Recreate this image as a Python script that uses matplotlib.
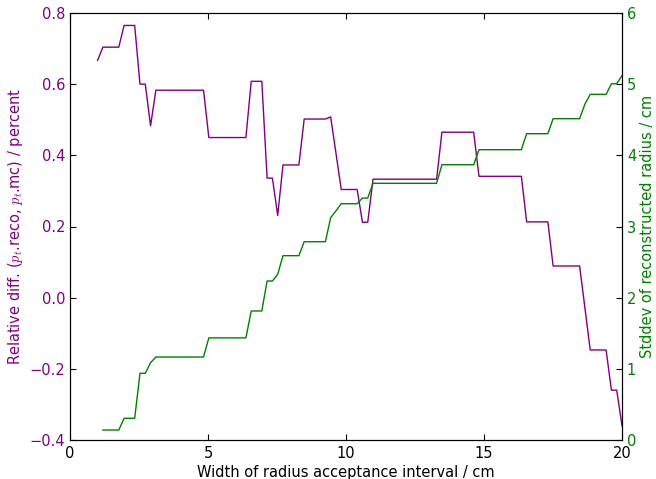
import numpy as np
import matplotlib
matplotlib.use("Agg")
import matplotlib.pyplot as plt

# scan over the width of the radius acceptance interval (cm)
widths = np.linspace(1, 20, 100)

# relative difference between reconstructed and true pt (percent)
rel_diff = [
    0.667, 0.704, 0.704, 0.704, 0.704, 0.765, 0.765, 0.765, 0.600, 0.600,
    0.483, 0.583, 0.583, 0.583, 0.583, 0.583, 0.583, 0.583, 0.583, 0.583,
    0.583, 0.450, 0.450, 0.450, 0.450, 0.450, 0.450, 0.450, 0.450, 0.608,
    0.608, 0.608, 0.336, 0.336, 0.231, 0.373, 0.373, 0.373, 0.373, 0.502,
    0.502, 0.502, 0.502, 0.502, 0.508, 0.406, 0.304, 0.304, 0.304, 0.304,
    0.212, 0.212, 0.333, 0.333, 0.333, 0.333, 0.333, 0.333, 0.333, 0.333,
    0.333, 0.333, 0.333, 0.333, 0.333, 0.465, 0.465, 0.465, 0.465, 0.465,
    0.465, 0.465, 0.341, 0.341, 0.341, 0.341, 0.341, 0.341, 0.341, 0.341,
    0.341, 0.213, 0.213, 0.213, 0.213, 0.213, 0.089, 0.089, 0.089, 0.089,
    0.089, 0.089, -0.029, -0.147, -0.147, -0.147, -0.147, -0.260, -0.260, -0.360,
]

# stddev of the reconstructed radius (cm); first width has no entry
radius_std = [
    np.nan, 0.140, 0.140, 0.140, 0.140, 0.305, 0.305, 0.305, 0.937, 0.937,
    1.086, 1.166, 1.166, 1.166, 1.166, 1.166, 1.166, 1.166, 1.166, 1.166,
    1.166, 1.435, 1.435, 1.435, 1.435, 1.435, 1.435, 1.435, 1.435, 1.813,
    1.813, 1.813, 2.234, 2.234, 2.328, 2.590, 2.590, 2.590, 2.590, 2.786,
    2.786, 2.786, 2.786, 2.786, 3.124, 3.220, 3.320, 3.320, 3.320, 3.320,
    3.400, 3.400, 3.607, 3.607, 3.607, 3.607, 3.607, 3.607, 3.607, 3.607,
    3.607, 3.607, 3.607, 3.607, 3.607, 3.868, 3.868, 3.868, 3.868, 3.868,
    3.868, 3.868, 4.079, 4.079, 4.079, 4.079, 4.079, 4.079, 4.079, 4.079,
    4.079, 4.304, 4.304, 4.304, 4.304, 4.304, 4.515, 4.515, 4.515, 4.515,
    4.515, 4.515, 4.720, 4.857, 4.857, 4.857, 4.857, 5.006, 5.006, 5.119,
]

x_ticks = [0, 5, 10, 15, 20]
left_ticks = [-0.4, -0.2, 0.0, 0.2, 0.4, 0.6, 0.8]
right_ticks = [0, 1, 2, 3, 4, 5, 6]

plt.rcParams["font.size"] = 10.5
plt.rcParams["mathtext.fontset"] = "cm"
plt.rcParams["xtick.direction"] = "in"
plt.rcParams["ytick.direction"] = "in"
plt.rcParams["xtick.major.size"] = 4
plt.rcParams["ytick.major.size"] = 4
plt.rcParams["xtick.major.pad"] = 4
plt.rcParams["ytick.major.pad"] = 3.5

fig = plt.figure(figsize=(6.56, 4.79), dpi=100)
ax1 = fig.add_axes([70 / 656, 1 - 440 / 479, 552 / 656, 427 / 479])

ax1.plot(widths, rel_diff, color="purple", lw=1)
ax1.set_xlim(0, 20)
ax1.set_ylim(-0.4, 0.8)
ax1.set_xticks(x_ticks)
ax1.set_yticks(left_ticks)
ax1.set_xlabel("Width of radius acceptance interval / cm", labelpad=3.5)
ax1.set_ylabel(r"Relative diff. ($p_t$.reco, $p_t$.mc) / percent",
               color="purple", labelpad=3)
ax1.tick_params(axis="y", labelcolor="purple")
ax1.tick_params(axis="x", top=True)

ax2 = ax1.twinx()
ax2.plot(widths, radius_std, color="green", lw=1)
ax2.set_ylim(0, 6)
ax2.set_yticks(right_ticks)
ax2.set_ylabel("Stddev of reconstructed radius / cm", color="green", labelpad=3)
ax2.tick_params(axis="y", labelcolor="green")

fig.savefig("out.png", dpi=100)
